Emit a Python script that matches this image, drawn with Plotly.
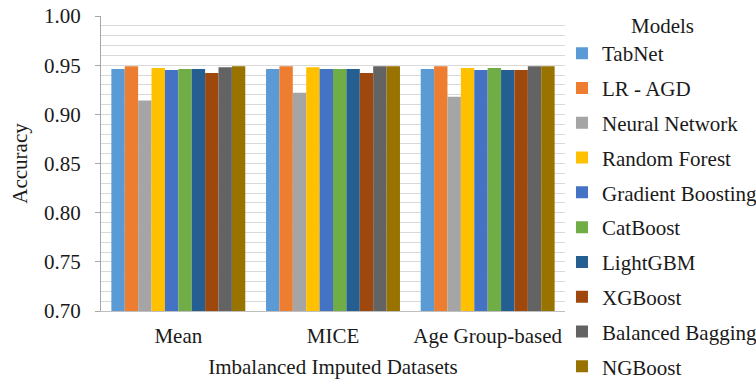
import plotly.graph_objects as go

categories = ["Mean", "MICE", "Age Group-based"]
models = ["TabNet", "LR - AGD", "Neural Network", "Random Forest", "Gradient Boosting",
          "CatBoost", "LightGBM", "XGBoost", "Balanced Bagging", "NGBoost"]
colors = ["#5B9BD5", "#ED7D31", "#A5A5A5", "#FFC000", "#4472C4",
          "#70AD47", "#255E91", "#9E480E", "#636363", "#997300"]
tabnet = [0.946, 0.946, 0.946]
lr_agd = [0.949, 0.949, 0.949]
neural_network = [0.914, 0.922, 0.918]
random_forest = [0.947, 0.948, 0.947]
gradient_boosting = [0.945, 0.946, 0.945]
catboost = [0.946, 0.946, 0.947]
lightgbm = [0.946, 0.946, 0.945]
xgboost = [0.942, 0.942, 0.945]
balanced_bagging = [0.948, 0.949, 0.949]
ngboost = [0.949, 0.949, 0.949]
series = [tabnet, lr_agd, neural_network, random_forest, gradient_boosting,
          catboost, lightgbm, xgboost, balanced_bagging, ngboost]

ff = "Liberation Serif"
fs = 21
tc = "#1a1a1a"
F = dict(family=ff, size=fs, color=tc)
fig = go.Figure()
for name, vals, col in zip(models, series, colors):
    fig.add_trace(go.Bar(x=categories, y=vals, name=name, marker_color=col,
                         marker_line_width=0, legendgroup=name))

fig.update_layout(
    width=756, height=385,
    margin=dict(l=101, r=191, t=16, b=74, autoexpand=False),
    paper_bgcolor="white", plot_bgcolor="white",
    barmode="group", bargap=0.134, bargroupgap=0,
    font=F,
    legend=dict(x=0.9935, y=1.035, xanchor="left", yanchor="top", maxheight=400,
                bgcolor="rgba(0,0,0,0)",
                title=dict(text="Models", side="top center", font=F),
                font=F, tracegroupgap=4.5, itemwidth=30),
    showlegend=True,
)
fig.update_xaxes(
    title=dict(text="Imbalanced Imputed Datasets", standoff=12, font=F),
    showline=True, linecolor="#bfbfbf", linewidth=1, ticks="",
    ticklabelstandoff=6,
    tickfont=F,
)
fig.update_yaxes(
    title=dict(text="Accuracy", standoff=10, font=F),
    range=[0.70, 1.00], dtick=0.05, tickformat=".2f",
    showgrid=True, gridcolor="#d9d9d9", gridwidth=1,
    minor=dict(dtick=0.01, showgrid=True, gridcolor="#d9d9d9", gridwidth=1),
    showline=True, linecolor="#a6a6a6", linewidth=1,
    ticks="outside", ticklen=5, tickcolor="#a6a6a6",
    ticklabelstandoff=10,
    tickfont=F, zeroline=False,
)
fig.write_html("out.html")
